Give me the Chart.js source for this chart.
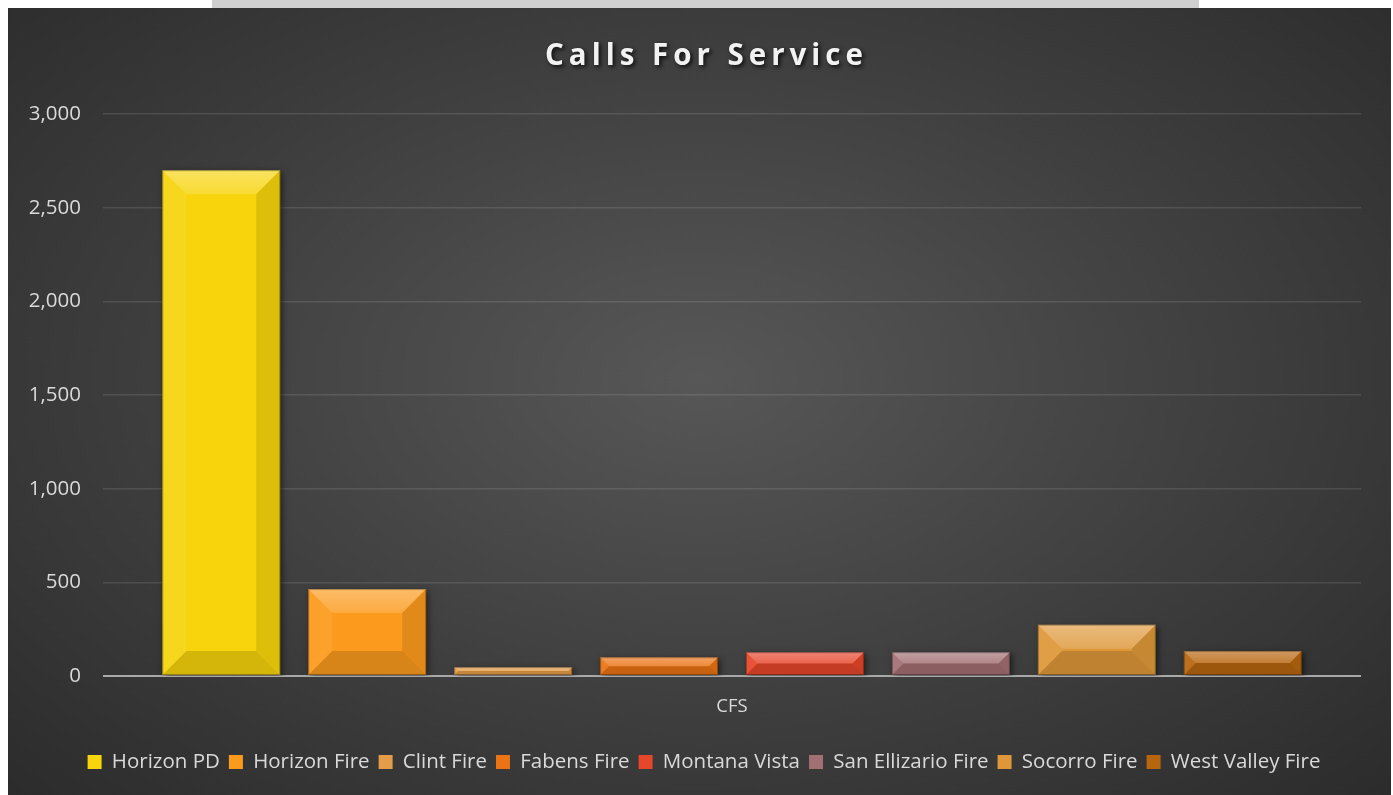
<!DOCTYPE html>
<html>
<head>
<meta charset="utf-8">
<script src="https://cdn.jsdelivr.net/npm/chart.js@4"></script>
<style>
  html, body { margin: 0; padding: 0; background: #ffffff; width: 1393px; height: 795px; overflow: hidden; }
  #strip { position: absolute; left: 212px; top: 0; width: 987px; height: 8px; background: #d0d0d0; }
  #wrap { position: absolute; left: 8px; top: 8px; width: 1383px; height: 787px;
          background: radial-gradient(ellipse 75% 80% at 50% 47%, #575757 0%, #3d3d3d 55%, #292929 100%); }
  canvas { display: block; }
</style>
</head>
<body>
<div id="strip"></div>
<div id="wrap"><canvas id="c" width="1383" height="787"></canvas></div>
<script>
const categories = ['CFS'];
const seriesNames = ['Horizon PD', 'Horizon Fire', 'Clint Fire', 'Fabens Fire', 'Montana Vista', 'San Ellizario Fire', 'Socorro Fire', 'West Valley Fire'];
const seriesValues = [2700, 464, 47, 100, 127, 127, 274, 133];
const yTicks = [0, 500, 1000, 1500, 2000, 2500, 3000];
const seriesColors = ['#f7d40c', '#fb9a1c', '#e39c48', '#ea7313', '#e6462a', '#a26f73', '#de9839', '#b7660e'];

const FONT = "'Open Sans', 'DejaVu Sans', sans-serif";
const TITLE_SPACING = 5;
const CENTER_SHIFT = 19.5;

const bevelPlugin = {
  id: 'bevel',
  afterLayout(chart) {
    [chart.titleBlock, chart.legend].forEach(box => {
      if (box) { box.left += CENTER_SHIFT; box.right += CENTER_SHIFT; }
    });
  },
  beforeDatasetsDraw(chart) {
    const ctx = chart.ctx;
    ctx.save();
    ctx.shadowColor = 'rgba(0,0,0,0.55)';
    ctx.shadowBlur = 6;
    ctx.shadowOffsetX = 2;
    ctx.shadowOffsetY = 2;
  },
  afterDatasetsDraw(chart) {
    const ctx = chart.ctx;
    ctx.restore();
    chart.data.datasets.forEach((ds, i) => {
      const meta = chart.getDatasetMeta(i);
      meta.data.forEach(el => {
        const p = el.getProps(['x', 'y', 'base', 'width'], true);
        const l = p.x - p.width / 2, r = p.x + p.width / 2;
        const t = Math.min(p.y, p.base), b = Math.max(p.y, p.base);
        const h = b - t;
        const d = Math.min(24, h / 2, p.width / 2);
        const poly = (pts, fill) => {
          ctx.beginPath();
          ctx.moveTo(pts[0][0], pts[0][1]);
          for (let k = 1; k < pts.length; k++) ctx.lineTo(pts[k][0], pts[k][1]);
          ctx.closePath();
          ctx.fillStyle = fill;
          ctx.fill();
        };
        ctx.save();
        const gTop = ctx.createLinearGradient(0, t, 0, t + d);
        gTop.addColorStop(0, 'rgba(255,255,255,0.34)');
        gTop.addColorStop(1, 'rgba(255,255,255,0.16)');
        poly([[l, t], [r, t], [r - d, t + d], [l + d, t + d]], gTop);
        poly([[l, b], [r, b], [r - d, b - d], [l + d, b - d]], 'rgba(0,0,0,0.14)');
        poly([[l, t], [l + d, t + d], [l + d, b - d], [l, b]], 'rgba(255,255,255,0.07)');
        poly([[r, t], [r - d, t + d], [r - d, b - d], [r, b]], 'rgba(0,0,0,0.10)');
        ctx.strokeStyle = 'rgba(0,0,0,0.3)';
        ctx.lineWidth = 1;
        ctx.strokeRect(l + 0.5, t + 0.5, p.width - 1, h - 1);
        ctx.restore();
      });
    });
  },
  beforeDraw(chart) {
    const tb = chart.titleBlock;
    if (tb && !tb._shadowPatched) {
      const orig = tb.draw;
      tb.draw = function (...args) {
        const ctx = chart.ctx;
        ctx.save();
        ctx.translate(TITLE_SPACING / 2, 0);
        ctx.letterSpacing = TITLE_SPACING + 'px';
        ctx.shadowColor = 'rgba(0,0,0,0.8)';
        ctx.shadowBlur = 4;
        ctx.shadowOffsetX = 2;
        ctx.shadowOffsetY = 2;
        orig.apply(this, args);
        ctx.restore();
      };
      tb._shadowPatched = true;
    }
  }
};

const datasets = seriesNames.map((name, i) => ({
  label: name,
  data: [seriesValues[i]],
  backgroundColor: seriesColors[i],
  borderWidth: 0,
  categoryPercentage: 0.928,
  barPercentage: 0.808
}));

new Chart(document.getElementById('c'), {
  type: 'bar',
  data: { labels: categories, datasets },
  options: {
    responsive: false,
    animation: false,
    devicePixelRatio: 1,
    layout: { padding: { top: 0, right: 30, bottom: 12.75, left: 0 } },
    plugins: {
      title: {
        display: true,
        text: 'Calls For Service',
        color: '#f2f2f2',
        font: { family: FONT, size: 29.5, weight: 'bold' },
        padding: { top: 31, bottom: 39.6 }
      },
      legend: {
        position: 'bottom',
        labels: {
          color: '#d9d9d9',
          font: { family: FONT, size: 20.5 },
          boxWidth: 14,
          boxHeight: 14,
          padding: 9
        }
      },
      tooltip: { enabled: false }
    },
    scales: {
      x: {
        grid: { display: false },
        border: { display: false },
        ticks: { color: '#d9d9d9', font: { family: FONT, size: 18.5 }, padding: 12 },
        afterFit(s) { s.height = 66.75; }
      },
      y: {
        min: 0,
        max: 3000,
        afterBuildTicks(s) { s.ticks = yTicks.map(v => ({ value: v })); },
        grid: {
          drawTicks: false,
          color: ctx => (ctx.tick && ctx.tick.value === 0) ? '#a9a9a9' : 'rgba(255,255,255,0.11)',
          lineWidth: ctx => (ctx.tick && ctx.tick.value === 0) ? 2 : 1.5
        },
        border: { display: false },
        ticks: {
          color: '#d9d9d9',
          font: { family: FONT, size: 20.5 },
          padding: 22,
          callback: v => v.toLocaleString('en-US')
        },
        afterFit(s) { s.width = 95; }
      }
    }
  },
  plugins: [bevelPlugin]
});
</script>
</body>
</html>
